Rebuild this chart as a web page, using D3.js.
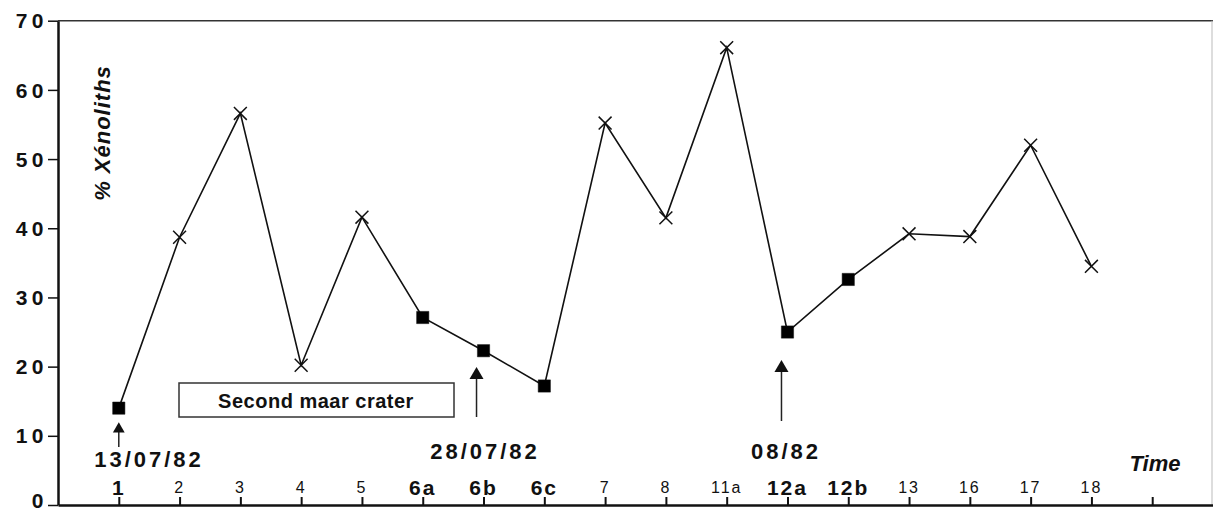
<!DOCTYPE html>
<html>
<head>
<meta charset="utf-8">
<script src="https://cdn.jsdelivr.net/npm/d3@7/dist/d3.min.js"></script>
<style>
  body { margin: 0; background: #fff; }
  svg { display: block; font-family: "Liberation Sans", Arial, sans-serif; }
</style>
</head>
<body>
<div id="chart"></div>
<script>
// Données
const categories = ['1', '2', '3', '4', '5', '6a', '6b', '6c', '7', '8', '11a', '12a', '12b', '13', '16', '17', '18'];
const xenoliths = [14.0, 38.7, 56.6, 20.2, 41.6, 27.1, 22.3, 17.2, 55.2, 41.5, 66.1, 25.0, 32.6, 39.2, 38.8, 52.0, 34.5];
const markers = ['square', 'cross', 'cross', 'cross', 'cross', 'square', 'square', 'square', 'cross', 'cross', 'cross', 'square', 'square', 'cross', 'cross', 'cross', 'cross'];
const boldCategories = ['1', '6a', '6b', '6c', '12a', '12b'];
const yTicks = [0, 10, 20, 30, 40, 50, 60, 70];
const dateNotes = [
  { cat: '1', label: '13/07/82' },
  { cat: '6b', label: '28/07/82' },
  { cat: '12a', label: '08/82' }
];
const boxLabel = 'Second maar crater';

const width = 1213, height = 516;
const slots = categories.length + 2; // une graduation vide et le bord à droite

const svg = d3.select('#chart').append('svg')
  .attr('width', width)
  .attr('height', height);

const x = d3.scaleLinear().domain([0, slots]).range([58, 1213]);
const y = d3.scaleLinear().domain([0, 70]).range([505, 20.7]);
const xCat = c => x(categories.indexOf(c) + 1);

// Cadre : haut et droite
svg.append('line')
  .attr('x1', x(0)).attr('x2', x(slots))
  .attr('y1', y(70)).attr('y2', y(70))
  .attr('stroke', '#333').attr('stroke-width', 1.6);
svg.append('line')
  .attr('x1', x(slots) - 1).attr('x2', x(slots) - 1)
  .attr('y1', y(70)).attr('y2', y(0))
  .attr('stroke', '#bbb').attr('stroke-width', 1);

// Axe Y
const yAxis = svg.append('g')
  .attr('transform', `translate(${x(0)},0)`)
  .call(d3.axisLeft(y).tickValues(yTicks).tickSize(10).tickSizeOuter(0).tickPadding(0));
yAxis.select('.domain').attr('stroke', '#111').attr('stroke-width', 2.5);
yAxis.selectAll('.tick line').attr('stroke', '#111').attr('stroke-width', 1.5);
yAxis.selectAll('.tick text')
  .attr('fill', '#111')
  .attr('y', d => d === 0 ? -5 : 0)
  .attr('dy', '0.34em')
  .style('font-size', '21px')
  .style('font-weight', 'bold')
  .style('letter-spacing', '4.5px');

// Axe X (graduations vers l'intérieur, étiquettes au-dessus)
const xAxis = svg.append('g')
  .attr('transform', `translate(0,${y(0)})`)
  .call(d3.axisBottom(x).tickValues(d3.range(1, slots)).tickSize(-8).tickSizeOuter(0).tickFormat(''));
xAxis.select('.domain').attr('stroke', '#111').attr('stroke-width', 2.5);
xAxis.selectAll('.tick line').attr('stroke', '#111').attr('stroke-width', 2);

svg.append('g').selectAll('text')
  .data(categories)
  .enter().append('text')
  .attr('x', d => xCat(d))
  .attr('y', d => boldCategories.includes(d) ? 495 : 493)
  .attr('text-anchor', 'middle')
  .attr('fill', '#111')
  .style('font-size', d => boldCategories.includes(d) ? '21px' : '16px')
  .style('font-weight', d => boldCategories.includes(d) ? 'bold' : 'normal')
  .style('letter-spacing', '2px')
  .text(d => d);

// Titres des axes
svg.append('text')
  .attr('transform', `translate(110,133) rotate(-90)`)
  .attr('text-anchor', 'middle')
  .attr('fill', '#111')
  .style('font-size', '22px')
  .style('font-weight', 'bold')
  .style('font-style', 'italic')
  .style('letter-spacing', '1px')
  .text('% Xénoliths');

svg.append('text')
  .attr('x', 1155).attr('y', 471)
  .attr('text-anchor', 'middle')
  .attr('fill', '#111')
  .style('font-size', '22px')
  .style('font-weight', 'bold')
  .style('font-style', 'italic')
  .text('Time');

// Courbe
const line = d3.line()
  .x((d, i) => x(i + 1))
  .y(d => y(d));

svg.append('path')
  .datum(xenoliths)
  .attr('fill', 'none')
  .attr('stroke', '#111')
  .attr('stroke-width', 1.6)
  .attr('d', line);

svg.append('g').selectAll('path')
  .data(xenoliths)
  .enter().append('path')
  .attr('transform', (d, i) => `translate(${x(i + 1)},${y(d)})`)
  .attr('d', (d, i) => markers[i] === 'square'
    ? d3.symbol(d3.symbolSquare, 150)()
    : d3.symbol(d3.symbolX, 110)())
  .attr('fill', (d, i) => markers[i] === 'square' ? '#000' : 'none')
  .attr('stroke', '#111')
  .attr('stroke-width', (d, i) => markers[i] === 'square' ? 0.5 : 1.5);

// Encadré "Second maar crater"
const box = svg.append('g');
box.append('rect')
  .attr('x', 179).attr('y', 383)
  .attr('width', 275).attr('height', 34)
  .attr('fill', '#fff')
  .attr('stroke', '#333').attr('stroke-width', 1.5);
box.append('text')
  .attr('x', 316).attr('y', 408)
  .attr('text-anchor', 'middle')
  .attr('fill', '#111')
  .style('font-size', '20px')
  .style('font-weight', 'bold')
  .style('letter-spacing', '0.5px')
  .text(boxLabel);

// Flèches et dates
const arrowSpec = {
  '1': { tip: 423, base: 447, tx: 149, ty: 467, dx: 0, head: 60 },
  '6b': { tip: 369, base: 417, tx: 485, ty: 459, dx: -7, head: 85 },
  '12a': { tip: 362, base: 421, tx: 786, ty: 459, dx: -6, head: 85 }
};

const notes = svg.append('g').selectAll('g')
  .data(dateNotes)
  .enter().append('g');

notes.append('line')
  .attr('x1', d => xCat(d.cat) + arrowSpec[d.cat].dx)
  .attr('x2', d => xCat(d.cat) + arrowSpec[d.cat].dx)
  .attr('y1', d => arrowSpec[d.cat].base)
  .attr('y2', d => arrowSpec[d.cat].tip + 9)
  .attr('stroke', '#222').attr('stroke-width', 1.5);

notes.append('path')
  .attr('transform', d => `translate(${xCat(d.cat) + arrowSpec[d.cat].dx},${arrowSpec[d.cat].tip + 6})`)
  .attr('d', d => d3.symbol(d3.symbolTriangle, arrowSpec[d.cat].head)())
  .attr('fill', '#111');

notes.append('text')
  .attr('x', d => arrowSpec[d.cat].tx)
  .attr('y', d => arrowSpec[d.cat].ty)
  .attr('text-anchor', 'middle')
  .attr('fill', '#111')
  .style('font-size', '22px')
  .style('font-weight', 'bold')
  .style('letter-spacing', '3px')
  .text(d => d.label);
</script>
</body>
</html>
